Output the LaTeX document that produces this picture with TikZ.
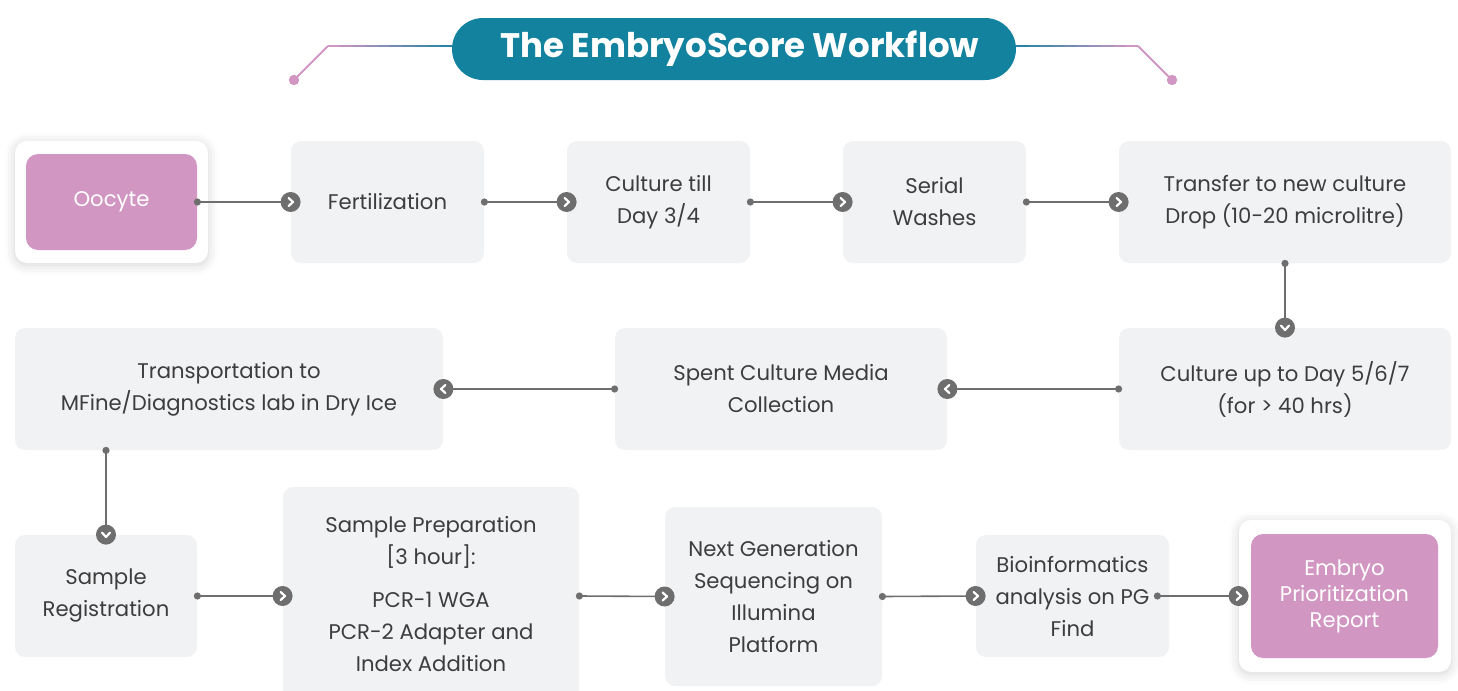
\documentclass[tikz,border=0pt]{standalone}
\usepackage{fontspec}
\setmainfont{Poppins}
\usepackage{xcolor}
\usetikzlibrary{shapes, arrows.meta, positioning, shadows.blur}

\definecolor{boxgray}{HTML}{F1F2F4}
\definecolor{inkgray}{HTML}{3D3D3D}
\definecolor{linkgray}{HTML}{6E6E6E}
\definecolor{pinkstep}{HTML}{D196C2}
\definecolor{tealhead}{HTML}{13829F}

\tikzset{
  pics/chev/.style={code={
    \fill[linkgray] (0,0) circle (5pt);
    \draw[white, line width=1.1pt, line cap=round, line join=round,
          shorten >=0pt, shorten <=0pt]
      (-1pt,2pt) -- (1.2pt,0pt) -- (-1pt,-2pt);
  }},
  pics/tail/.style={code={
    \fill[linkgray] (0,0) circle (1.8pt);
  }}
}

\begin{document}
\begin{tikzpicture}[
    x=0.5pt, y=-0.5pt,
    font=\fontsize{10.6}{16}\selectfont,
    box/.style={rectangle, rounded corners=5pt, fill=boxgray, text=inkgray,
                align=center, minimum height=61pt, inner sep=2pt},
    card/.style={rectangle, rounded corners=6pt, fill=white,
                 blur shadow={shadow xshift=0pt, shadow yshift=-1pt,
                 shadow blur radius=5pt, shadow opacity=18}},
    pinkbox/.style={rectangle, rounded corners=6pt, fill=pinkstep,
                    text=white, align=center},
    link/.style={draw=linkgray, line width=0.8pt, shorten >=4pt}
]
\useasboundingbox (0,0) rectangle (1458,691);

% === HEADER ===
\foreach \i in {0,...,9}{
  \pgfmathsetmacro\mix{100-\i*10}
  \draw[pinkstep!\mix!tealhead, line width=1pt]
    (328+\i*12.4,46) -- (340.4+\i*12.4,46);
  \draw[pinkstep!\mix!tealhead, line width=1pt]
    (1138-\i*12.2,46) -- (1125.8-\i*12.2,46);
}
\draw[pinkstep, line width=1pt] (328,46) -- (294,80);
\draw[pinkstep, line width=1pt] (1138,46) -- (1172,80);
\fill[pinkstep] (294,80) circle (2.6pt);
\fill[pinkstep] (1172,80) circle (2.6pt);
\node[fill=tealhead, rounded corners=15.5pt, minimum width=282pt,
      minimum height=31pt, text=white,
      font=\fontsize{17}{20}\selectfont\bfseries] (title) at (734,49)
  {\hspace{6pt}The EmbryoScore Workflow};

% === ROW 1 ===
\node[card, minimum width=96.5pt, minimum height=61pt] (ooccard) at (111.5,202) {};
\node[pinkbox, minimum width=85.5pt, minimum height=48pt] (ooc) at (111.5,202) {Oocyte};
\node[box, minimum width=96.5pt] (fert) at (387.5,202) {Fertilization};
\node[box, minimum width=91.5pt] (cult) at (658.5,202) {Culture till\\Day 3/4};
\node[box, minimum width=91.5pt] (wash) at (934.5,202) {Serial\\Washes};
\node[box, minimum width=166pt] (drop) at (1285,202)
  {Transfer to new culture\\Drop (10-20 microlitre)};

% === ROW 2 ===
\node[box, minimum width=166pt] (grow) at (1285,389)
  {Culture up to Day 5/6/7\\(for > 40 hrs)};
\node[box, minimum width=166pt] (spent) at (781,389)
  {Spent Culture Media\\Collection};
\node[box, minimum width=214pt] (ship) at (229,389)
  {Transportation to\\MFine/Diagnostics lab in Dry Ice};

% === ROW 3 ===
\node[box, minimum width=91pt] (reg) at (106,596) {Sample\\Registration};
\node[box, minimum width=148pt, minimum height=107pt] (prep) at (431,594)
  {Sample Preparation\\{[3 hour]:}\\[5.5pt]PCR-1 WGA\\PCR-2 Adapter and\\Index Addition};
\node[box, minimum width=108.5pt, minimum height=89.5pt] (ngs) at (773.5,596.5)
  {Next Generation\\Sequencing on\\Illumina\\Platform};
\node[box, minimum width=96.5pt] (bio) at (1072.5,596)
  {Bioinformatics\\analysis on PG\\Find};
\node[card, minimum width=106pt, minimum height=76pt] (repcard) at (1345,596) {};
\node[pinkbox, minimum width=93.5pt, minimum height=62pt,
      font=\fontsize{10.6}{13}\selectfont] (rep) at (1344.5,596)
  {Embryo\\Prioritization\\Report};

% === CONNECTORS ===
\draw[link] (ooc.east) pic{tail} -- (fert.west) pic{chev};
\draw[link] (fert.east) pic{tail} -- (cult.west) pic{chev};
\draw[link] (cult.east) pic{tail} -- (wash.west) pic{chev};
\draw[link] (wash.east) pic{tail} -- (drop.west) pic{chev};
\draw[link] (drop.south) pic{tail} -- (grow.north) pic[rotate=-90]{chev};
\draw[link] (grow.west) pic{tail} -- (spent.east) pic[rotate=180]{chev};
\draw[link] (spent.west) pic{tail} -- (ship.east) pic[rotate=180]{chev};
\draw[link] (ship.south -| reg.north) pic{tail} -- (reg.north) pic[rotate=-90]{chev};
\draw[link] (reg.east) pic{tail} -- (prep.west |- reg.east) pic{chev};
\draw[link] (prep.east |- reg.east) pic{tail} -- (ngs.west) pic{chev};
\draw[link] (ngs.east) pic{tail} -- (bio.west) pic{chev};
\draw[link] ([xshift=-6pt]bio.east) pic{tail} -- (repcard.west) pic{chev};

\end{tikzpicture}
\end{document}
